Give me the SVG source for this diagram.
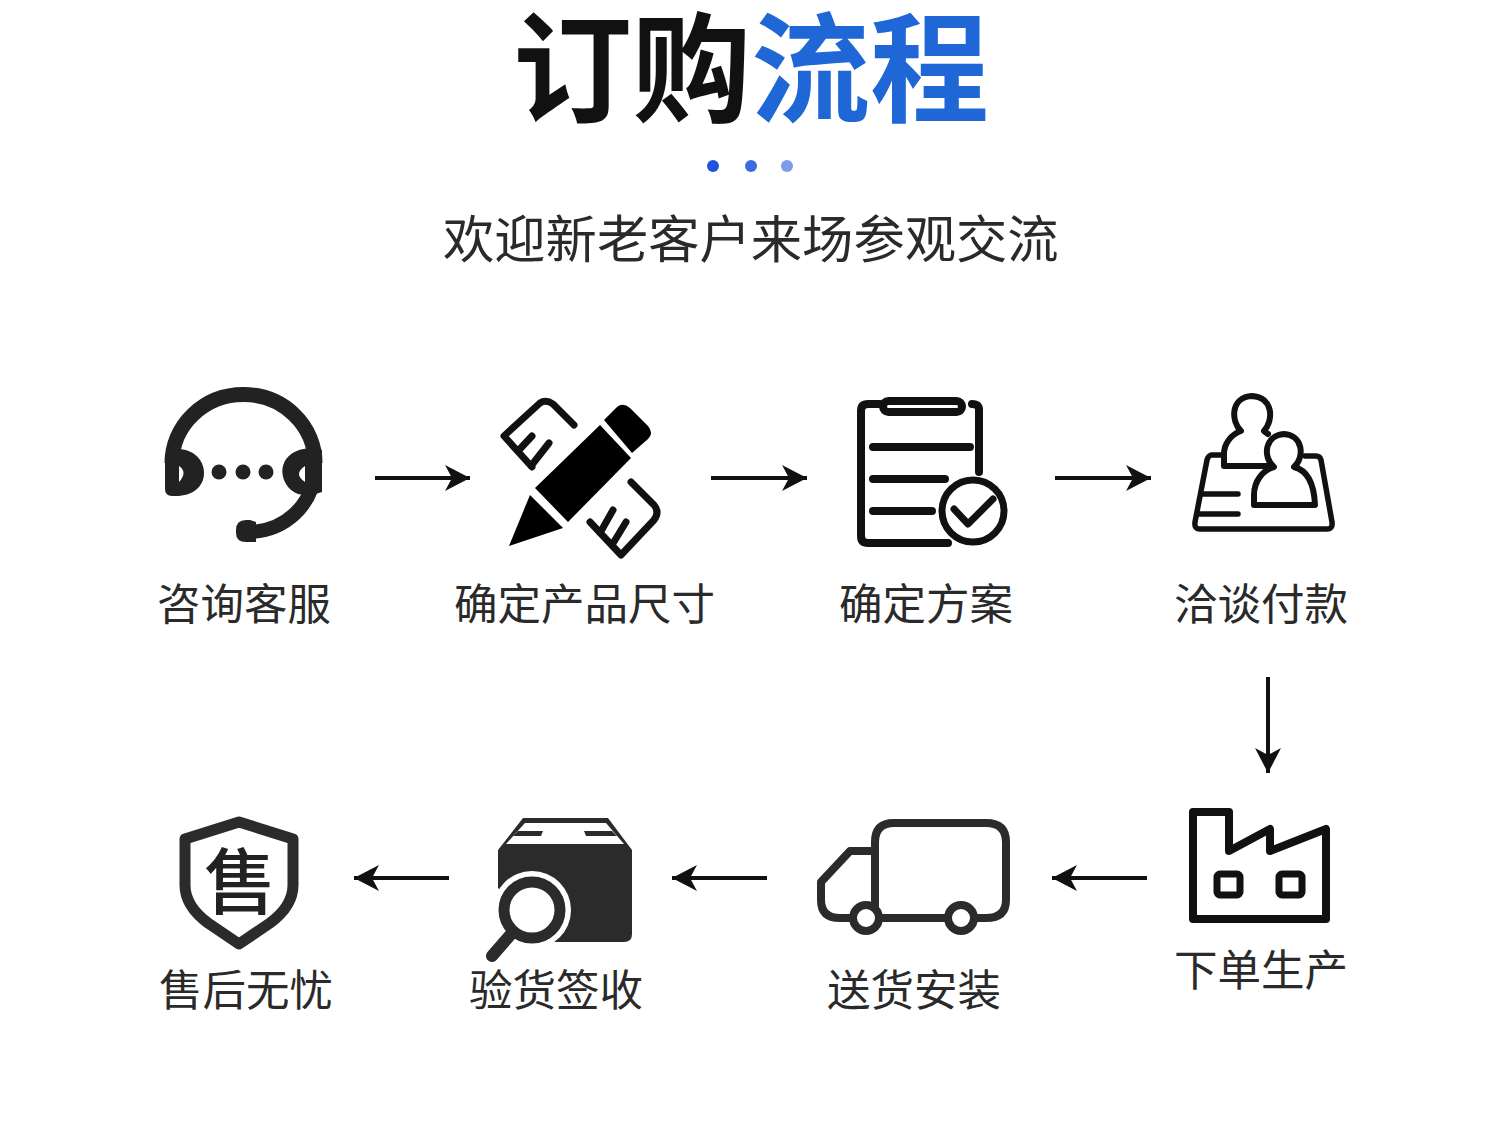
<svg xmlns="http://www.w3.org/2000/svg" width="1500" height="1134" viewBox="0 0 1500 1134">
<style>
text{font-family:"Noto Sans CJK SC","Liberation Sans",sans-serif}
.l{font-size:43.5px;fill:#2a2a2a;font-weight:400}
.s{fill:none;stroke:#111;stroke-linecap:round;stroke-linejoin:round}
.c{fill:none;stroke:#111;stroke-width:4}
.d{fill:none;stroke:#2b2b2b;stroke-linecap:round;stroke-linejoin:round}
</style>
<defs>
<marker id="a" markerUnits="userSpaceOnUse" markerWidth="26" markerHeight="28" refX="25" refY="14" orient="auto"><path d="M25,14 L0,1 L7,14 L0,27 Z" fill="#111"/></marker>
</defs>
<rect width="1500" height="1134" fill="#fff"/>
<g id="title">
<text x="513" y="113" font-size="119" font-weight="700" fill="#111">订购<tspan fill="#1f66d6">流程</tspan></text>
<circle cx="713" cy="166" r="6" fill="#1f55dc"/><circle cx="751" cy="166" r="6" fill="#3a6bdf"/><circle cx="787" cy="166" r="6" fill="#7c9ce8"/>
<text x="443" y="258" font-size="51.3" fill="#2a2a2a">欢迎新老客户来场参观交流</text>
</g>
<g id="connectors">
<path class="c" marker-end="url(#a)" d="M375,478H470"/>
<path class="c" marker-end="url(#a)" d="M711,478H807"/>
<path class="c" marker-end="url(#a)" d="M1055,478H1151"/>
<path class="c" marker-end="url(#a)" d="M1268,677V773"/>
<path class="c" marker-end="url(#a)" d="M1147,878H1052"/>
<path class="c" marker-end="url(#a)" d="M767,878H672"/>
<path class="c" marker-end="url(#a)" d="M449,878H354"/>
</g>
<g id="n1">
<path d="M172,463A71,68 0 0 1 315,463" fill="none" stroke="#222" stroke-width="15"/>
<path d="M315,470C313,505 285,532 247,532" fill="none" stroke="#222" stroke-width="14"/>
<path d="M165,460Q165,452 172,450C190,446 204,458 204,473C204,487 192,496 176,496H172Q165,496 165,489Z" fill="#222"/>
<path d="M322,450V492Q310,497 298,494C283,488 281,472 283,466C286,454 300,445 322,450Z" fill="#222"/>
<path d="M179,466Q188,472 179,482Z" fill="#fff"/><path d="M305,466Q293,474 305,482Z" fill="#fff"/>
<circle cx="219" cy="472" r="7.5" fill="#222"/><circle cx="243" cy="472" r="7.5" fill="#222"/><circle cx="266" cy="472" r="7.5" fill="#222"/>
<path d="M250,520H246Q236,520 236,530V533Q236,542 246,542H256V522Z" fill="#222"/>
<text class="l" x="157" y="620">咨询客服</text>
</g>
<g id="n2">
<path d="M600,425L631,458L568,522L535,488Z" fill="#000"/>
<path d="M604,420L617,407Q623,402 630,408L648,426Q654,433 648,439L632,453Z" fill="#000"/>
<path d="M530,495L563,528L509,546Z" fill="#000"/>
<path class="s" stroke-width="7" stroke-linecap="butt" d="M574,425L553,404Q546,399 540,403L504,436L532,467M519,450L532,436M531,466L549,443"/>
<path class="s" stroke-width="7" stroke-linecap="butt" d="M631,482L654,505Q660,512 654,520L621,555L590,522M600,533L613,510M612,545L626,522"/>
<text class="l" x="454" y="620">确定产品尺寸</text>
</g>
<g id="n3">
<path class="s" stroke-width="8" d="M979,472V410Q979,404 972,404M880,404H868Q861,404 861,411V536Q861,543 868,543H948"/>
<rect x="883" y="401" width="79" height="11" rx="5.5" fill="none" stroke="#111" stroke-width="8"/>
<path class="s" stroke-width="8" d="M873,447H970M873,479H945M873,511H932"/>
<circle cx="973" cy="511" r="31" fill="#fff" stroke="#111" stroke-width="7"/>
<path class="s" stroke-width="7" d="M954,509L968,524L993,499"/>
<text class="l" x="839" y="620">确定方案</text>
</g>
<g id="n4">
<path class="s" stroke-width="5.5" d="M1223,455H1211Q1208,456 1207,460L1195,522Q1194,529 1200,529H1327Q1333,529 1332,522L1321,460Q1320,456 1316,456H1305"/>
<path class="s" stroke-width="5.5" d="M1203,494H1238M1199,514H1238"/>
<path class="s" stroke-width="6" d="M1224,466V454C1224,443 1232,434 1241,431C1231,422 1230,397 1252,396C1273,397 1274,420 1264,431L1268,434M1224,466H1268"/>
<path class="s" stroke-width="6" fill="#fff" d="M1254,505V495C1254,481 1263,470 1274,467C1262,457 1265,435 1284,434C1303,435 1305,457 1294,467C1306,470 1314,481 1315,505Z"/>
<text class="l" x="1174" y="620">洽谈付款</text>
</g>
<g id="n5">
<path class="s" stroke-width="8" stroke-linecap="butt" d="M1193,812H1229V851L1270,829V851L1326,829V919H1193Z"/>
<rect x="1217" y="874" width="23" height="21" rx="3" fill="none" stroke="#111" stroke-width="7"/>
<rect x="1279" y="874" width="23" height="21" rx="3" fill="none" stroke="#111" stroke-width="7"/>
<text class="l" x="1174" y="986">下单生产</text>
</g>
<g id="n6">
<path class="d" stroke-width="8" d="M875,915V842Q875,823 894,823H986Q1006,823 1006,842V900Q1006,918 986,918H975M945,918H880"/>
<path class="d" stroke-width="8" d="M852,918H840Q821,918 821,900V882L850,851H875"/>
<circle cx="866" cy="918" r="13" fill="#fff" stroke="#2b2b2b" stroke-width="8"/>
<circle cx="961" cy="918" r="13" fill="#fff" stroke="#2b2b2b" stroke-width="8"/>
<text class="l" x="827" y="1006">送货安装</text>
</g>
<g id="n7">
<path d="M523,818H608L632,850V934Q632,942 624,942H555L498,888V850Z" fill="#2b2b2b"/>
<path d="M525,823H606L624,844H506Z" fill="#fff"/>
<path d="M518,831H543L541,836H513ZM584,831H612L617,836H586Z" fill="#2b2b2b"/>
<circle cx="532" cy="910" r="39" fill="#fff"/>
<circle cx="532" cy="910" r="28" fill="#fff" stroke="#2b2b2b" stroke-width="11"/>
<path class="d" stroke-width="12" d="M512,933L492,956"/>
<text class="l" x="469" y="1006">验货签收</text>
</g>
<g id="n8">
<path d="M239,822L293,839V885Q293,906 270,923L239,944L208,923Q185,906 185,885V839Z" fill="none" stroke="#2b2b2b" stroke-width="11" stroke-linejoin="round"/>
<text x="240" y="908" font-size="72" font-weight="500" fill="#222" text-anchor="middle">售</text>
<text class="l" x="159" y="1006">售后无忧</text>
</g>
</svg>
